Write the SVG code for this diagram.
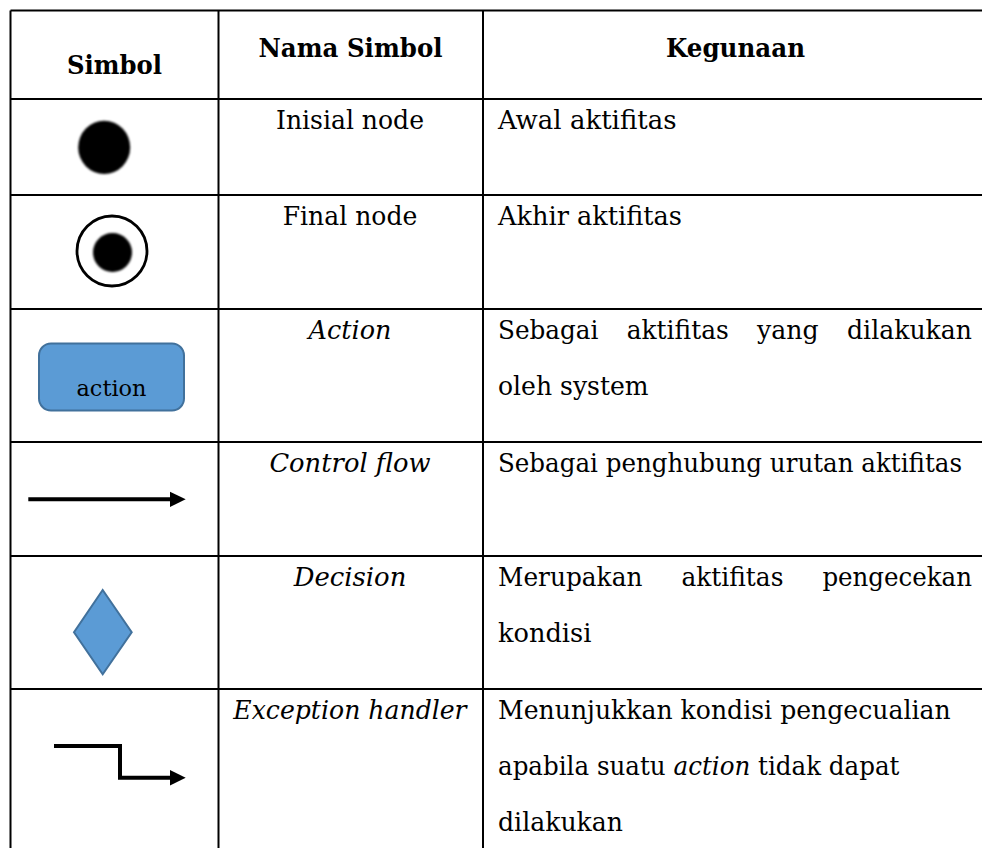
<svg xmlns="http://www.w3.org/2000/svg" width="982" height="848" viewBox="0 0 982 848" font-family="DejaVu Serif, Liberation Serif, serif">
  <defs>
    <style>
      .grid { stroke: #000; stroke-width: 2; fill: none; }
      .txt { font-size: 25.5px; fill: #000; }
      .hdr { font-weight: bold; }
      .it { font-style: italic; }
      .mid { text-anchor: middle; }
      .shape { fill: #5B9BD5; stroke: #41719C; stroke-width: 2; }
      .flow { fill: none; stroke: #000; stroke-width: 4; }
      .head { fill: #000; stroke: none; }
    </style>
    <filter id="soft" x="-20%" y="-20%" width="140%" height="140%">
      <feGaussianBlur stdDeviation="0.8"/>
    </filter>
  </defs>

  <rect width="982" height="848" fill="#fff"/>

  <!-- table grid -->
  <g id="grid" class="grid">
    <line x1="10.5" y1="10.5" x2="982" y2="10.5"/>
    <line x1="10.5" y1="99" x2="982" y2="99"/>
    <line x1="10.5" y1="195" x2="982" y2="195"/>
    <line x1="10.5" y1="309" x2="982" y2="309"/>
    <line x1="10.5" y1="442" x2="982" y2="442"/>
    <line x1="10.5" y1="556" x2="982" y2="556"/>
    <line x1="10.5" y1="689" x2="982" y2="689"/>
    <line x1="10.5" y1="10.5" x2="10.5" y2="848"/>
    <line x1="218.5" y1="10.5" x2="218.5" y2="848"/>
    <line x1="483" y1="10.5" x2="483" y2="848"/>
  </g>

  <!-- header row -->
  <g id="header" class="txt hdr">
    <text x="114.5" y="74" class="mid" textLength="95" lengthAdjust="spacingAndGlyphs">Simbol</text>
    <text x="350.5" y="57" class="mid" textLength="184" lengthAdjust="spacingAndGlyphs">Nama Simbol</text>
    <text x="735.5" y="57" class="mid" textLength="139" lengthAdjust="spacingAndGlyphs">Kegunaan</text>
  </g>

  <!-- initial node -->
  <g id="row-initial">
    <ellipse cx="104.2" cy="147.4" rx="26" ry="26.6" fill="#000" filter="url(#soft)"/>
    <text class="txt mid" x="350" y="129" textLength="148" lengthAdjust="spacingAndGlyphs">Inisial node</text>
    <text class="txt" x="498" y="129" textLength="178.5" lengthAdjust="spacingAndGlyphs">Awal aktifitas</text>
  </g>

  <!-- final node -->
  <g id="row-final">
    <circle cx="112" cy="251" r="35" fill="none" stroke="#000" stroke-width="2.8"/>
    <circle cx="112.5" cy="252.5" r="19.5" fill="#000" filter="url(#soft)"/>
    <text class="txt mid" x="350" y="225" textLength="134.7" lengthAdjust="spacingAndGlyphs">Final node</text>
    <text class="txt" x="498" y="225" textLength="184" lengthAdjust="spacingAndGlyphs">Akhir aktifitas</text>
  </g>

  <!-- action -->
  <g id="row-action">
    <rect class="shape" x="39" y="343.5" width="145" height="67" rx="12" ry="12"/>
    <text class="txt mid" x="111.5" y="395.5" style="font-size:23px" textLength="70" lengthAdjust="spacingAndGlyphs">action</text>
    <text class="txt it mid" x="350" y="339" textLength="82.8" lengthAdjust="spacingAndGlyphs">Action</text>
    <text class="txt" x="498" y="339" textLength="100.4" lengthAdjust="spacingAndGlyphs">Sebagai</text>
    <text class="txt" x="626.7" y="339" textLength="102.1" lengthAdjust="spacingAndGlyphs">aktifitas</text>
    <text class="txt" x="757.1" y="339" textLength="61.6" lengthAdjust="spacingAndGlyphs">yang</text>
    <text class="txt" x="847" y="339" textLength="125" lengthAdjust="spacingAndGlyphs">dilakukan</text>
    <text class="txt" x="498" y="395" textLength="150.6" lengthAdjust="spacingAndGlyphs">oleh system</text>
  </g>

  <!-- control flow -->
  <g id="row-control-flow">
    <line class="flow" x1="28.3" y1="499.3" x2="171" y2="499.3"/>
    <polygon class="head" points="170,491.7 185.7,499.3 170,506.9"/>
    <text class="txt it mid" x="350" y="472" textLength="161.2" lengthAdjust="spacingAndGlyphs">Control flow</text>
    <text class="txt" x="498" y="472" textLength="464" lengthAdjust="spacingAndGlyphs">Sebagai penghubung urutan aktifitas</text>
  </g>

  <!-- decision -->
  <g id="row-decision">
    <polygon class="shape" points="102.7,590 131.7,632.3 102.7,674.3 74,632.3"/>
    <text class="txt it mid" x="350" y="586" textLength="112.7" lengthAdjust="spacingAndGlyphs">Decision</text>
    <text class="txt" x="498" y="586" textLength="144.4" lengthAdjust="spacingAndGlyphs">Merupakan</text>
    <text class="txt" x="681.4" y="586" textLength="102.1" lengthAdjust="spacingAndGlyphs">aktifitas</text>
    <text class="txt" x="822.4" y="586" textLength="149.6" lengthAdjust="spacingAndGlyphs">pengecekan</text>
    <text class="txt" x="498" y="642" textLength="93.4" lengthAdjust="spacingAndGlyphs">kondisi</text>
  </g>

  <!-- exception handler -->
  <g id="row-exception">
    <polyline class="flow" points="54,746 120,746 120,777.8 171,777.8"/>
    <polygon class="head" points="170,770 185.7,777.8 170,785.6"/>
    <text class="txt it mid" x="350" y="719" textLength="233.3" lengthAdjust="spacingAndGlyphs">Exception handler</text>
    <text class="txt" x="498" y="719" textLength="452.6" lengthAdjust="spacingAndGlyphs">Menunjukkan kondisi pengecualian</text>
    <text class="txt" x="498" y="775" textLength="401.5" lengthAdjust="spacingAndGlyphs">apabila suatu <tspan class="it">action</tspan> tidak dapat</text>
    <text class="txt" x="498" y="831" textLength="125" lengthAdjust="spacingAndGlyphs">dilakukan</text>
  </g>
</svg>
